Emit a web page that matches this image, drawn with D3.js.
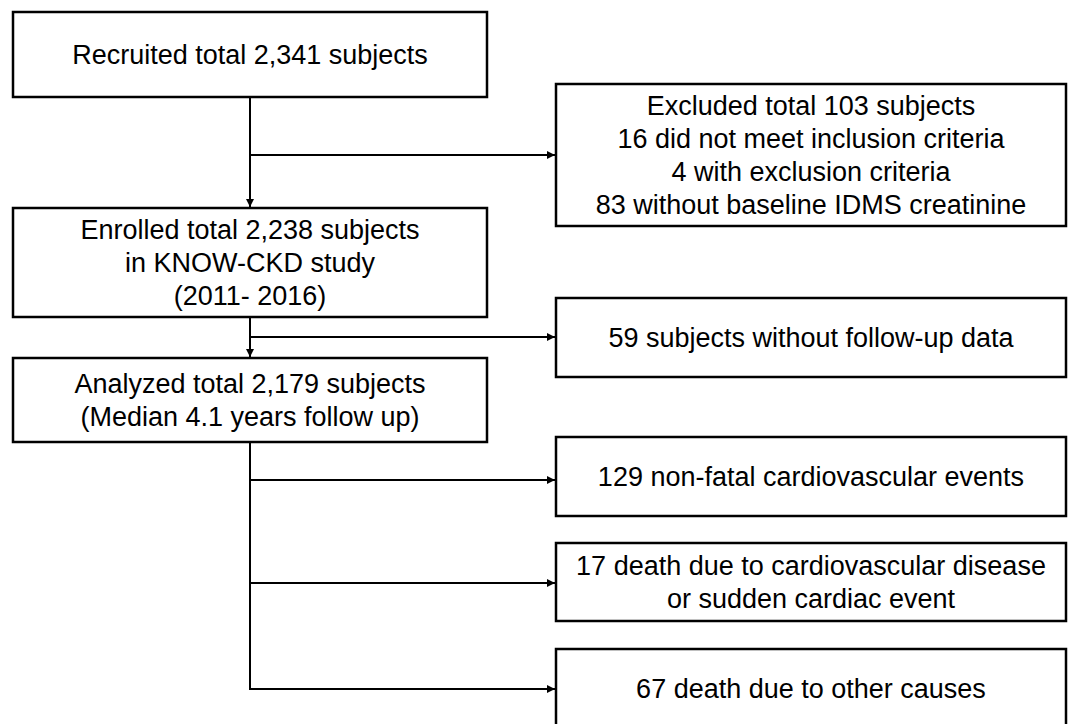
<!DOCTYPE html>
<html>
<head>
<meta charset="utf-8">
<script src="https://cdn.jsdelivr.net/npm/d3@7"></script>
<style>
  html, body { margin: 0; padding: 0; background: #fff; }
  text { font-family: "Liberation Sans", Arial, sans-serif; fill: #000; }
</style>
</head>
<body>
<div id="chart"></div>
<script>
// main column (left) boxes
const mainLabels = [
  ["Recruited total 2,341 subjects"],
  ["Enrolled total 2,238 subjects", "in KNOW-CKD study", "(2011- 2016)"],
  ["Analyzed total 2,179 subjects", "(Median 4.1 years follow up)"]
];

// side boxes (right)
const sideLabels = [
  ["Excluded total 103 subjects", "16 did not meet inclusion criteria", "4 with exclusion criteria", "83 without baseline IDMS creatinine"],
  ["59 subjects without follow-up data"],
  ["129 non-fatal cardiovascular events"],
  ["17 death due to cardiovascular disease", "or sudden cardiac event"],
  ["67 death due to other causes"]
];

const width = 1070;
const height = 724;

// layout (pixel geometry kept separate from the labels)
const mainBoxes = [
  { x0: 13, x1: 487, y0: 12, y1: 97 },
  { x0: 13, x1: 487, y0: 208, y1: 317 },
  { x0: 13, x1: 487, y0: 358, y1: 442 }
];
const sideBoxes = [
  { x0: 556, x1: 1066, y0: 84, y1: 226 },
  { x0: 556, x1: 1066, y0: 298, y1: 377 },
  { x0: 556, x1: 1066, y0: 437, y1: 516 },
  { x0: 556, x1: 1066, y0: 543, y1: 621 },
  { x0: 556, x1: 1066, y0: 649, y1: 729 }
];
const branchY = [155, 337, 480, 583, 689];
const spineX = 250;
const lineGap = 33;

const svg = d3
  .select("#chart")
  .append("svg")
  .attr("width", width)
  .attr("height", height)
  .style("display", "block");

svg.append("defs")
  .append("marker")
  .attr("id", "arrow")
  .attr("viewBox", "0 0 10 10")
  .attr("refX", 10)
  .attr("refY", 5)
  .attr("markerUnits", "userSpaceOnUse")
  .attr("markerWidth", 9)
  .attr("markerHeight", 8)
  .attr("orient", "auto")
  .append("path")
  .attr("d", "M0,0L10,5L0,10Z")
  .attr("fill", "#000");

// connectors
const links = svg.append("g")
  .attr("fill", "none")
  .attr("stroke", "#000")
  .attr("stroke-width", 2);

// spine segments between main boxes with arrows
for (let i = 0; i < mainBoxes.length - 1; i++) {
  links.append("line")
    .attr("x1", spineX).attr("y1", mainBoxes[i].y1)
    .attr("x2", spineX).attr("y2", mainBoxes[i + 1].y0 - 1)
    .attr("marker-end", "url(#arrow)");
}
// tail below last main box
links.append("line")
  .attr("x1", spineX).attr("y1", mainBoxes[2].y1)
  .attr("x2", spineX).attr("y2", branchY[4] + 1);

// side branches
links.selectAll(".branch")
  .data(sideBoxes)
  .enter()
  .append("line")
  .attr("class", "branch")
  .attr("x1", spineX - 1)
  .attr("y1", (d, i) => branchY[i])
  .attr("x2", (d) => d.x0 - 1)
  .attr("y2", (d, i) => branchY[i])
  .attr("marker-end", "url(#arrow)");

function drawBoxes(boxes, labels) {
  const g = svg.append("g")
    .selectAll("g")
    .data(boxes)
    .enter()
    .append("g");

  g.append("rect")
    .attr("x", (d) => d.x0)
    .attr("y", (d) => d.y0)
    .attr("width", (d) => d.x1 - d.x0)
    .attr("height", (d) => d.y1 - d.y0)
    .attr("fill", "#fff")
    .attr("stroke", "#000")
    .attr("stroke-width", 2.5);

  g.each(function (d, i) {
    const lines = labels[i];
    const cy = (d.y0 + d.y1) / 2;
    const start = cy - ((lines.length - 1) * lineGap) / 2;
    d3.select(this)
      .selectAll("text")
      .data(lines)
      .enter()
      .append("text")
      .attr("x", (d.x0 + d.x1) / 2)
      .attr("y", (t, j) => start + j * lineGap)
      .attr("dy", "0.35em")
      .attr("text-anchor", "middle")
      .style("font-size", "27px")
      .text((t) => t);
  });
}

drawBoxes(mainBoxes, mainLabels);
drawBoxes(sideBoxes, sideLabels);
</script>
</body>
</html>
